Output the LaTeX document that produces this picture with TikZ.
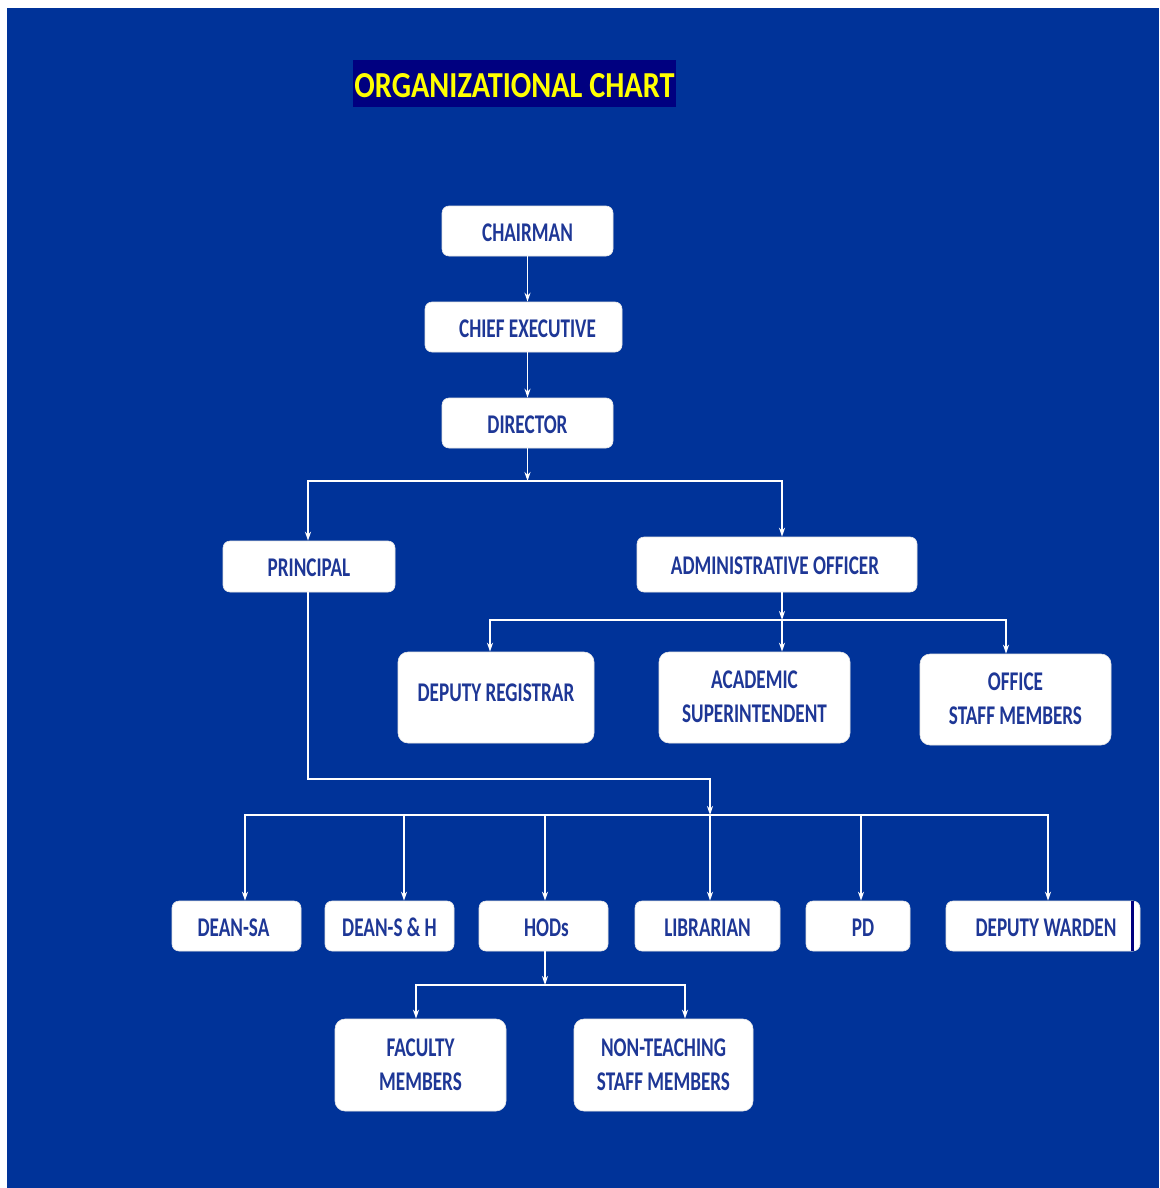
\documentclass[tikz,border=0pt]{standalone}
\usepackage{fontspec}
\setmainfont{Carlito}
\usepackage{graphicx}
\usetikzlibrary{arrows.meta}
\definecolor{bgblue}{RGB}{0,51,153}
\definecolor{navy}{RGB}{0,0,128}
\definecolor{txtblue}{RGB}{30,55,150}
\definecolor{ttl}{RGB}{255,255,0}
\newcommand{\lbl}[2][-3.5pt]{\raisebox{#1}[\height][\depth]{\scalebox{0.71}[1]{\fontsize{27}{34}\selectfont\bfseries\begin{tabular}{@{}c@{}}#2\end{tabular}}}}
\begin{document}
\begin{tikzpicture}[x=1pt,y=-1pt,
  box/.style={draw=white!80!gray, line width=0.6pt, fill=white, rounded corners=7pt, inner sep=0pt, text=txtblue},
  conn/.style={draw=white, line width=1.6pt, line cap=rect},
  arr/.style={draw=white, line width=1.6pt, -{Stealth[length=9pt,width=6pt]}}]
\useasboundingbox (0,0) rectangle (1159,1188);
\fill[white] (0,0) rectangle (1159,1188);
\fill[bgblue] (7,8) rectangle (1159,1188);
% title
\node[fill=navy, minimum width=323pt, minimum height=47pt, inner sep=0pt, text=ttl] (title) at (514.5,83.5)
  {\raisebox{-2pt}[\height][\depth]{\resizebox{320pt}{24pt}{\bfseries ORGANIZATIONAL CHART}}};
% boxes
\node[box, minimum width=171pt, minimum height=50pt] (chair) at (527.5,231) {\lbl{CHAIRMAN}};
\node[box, minimum width=197pt, minimum height=50pt] (chief) at (523.5,327) {\hspace*{8pt}\lbl{CHIEF EXECUTIVE}};
\node[box, minimum width=171pt, minimum height=50pt] (director) at (527.5,423) {\lbl{DIRECTOR}};
\node[box, minimum width=172pt, minimum height=51pt] (principal) at (309,566.5) {\lbl{PRINCIPAL}};
\node[box, minimum width=280pt, minimum height=55pt] (admin) at (777,564.5) {\hspace*{-4pt}\lbl{ADMINISTRATIVE OFFICER}};
\node[box, rounded corners=10pt, minimum width=196pt, minimum height=91pt] (depreg) at (496,697.5) {\lbl[2.5pt]{DEPUTY REGISTRAR}};
\node[box, rounded corners=10pt, minimum width=191pt, minimum height=91pt] (acad) at (754.5,697.5) {\lbl[-1.5pt]{ACADEMIC\\SUPERINTENDENT}};
\node[box, rounded corners=10pt, minimum width=191pt, minimum height=91pt] (office) at (1015.5,699.5) {\lbl[-1.5pt]{OFFICE\\STAFF MEMBERS}};
\node[box, minimum width=129pt, minimum height=50pt] (deansa) at (236.5,926) {\hspace*{-6pt}\lbl{DEAN-SA}};
\node[box, minimum width=129pt, minimum height=50pt] (deansh) at (389.5,926) {\lbl{DEAN-S \& H}};
\node[box, minimum width=129pt, minimum height=50pt] (hods) at (543.5,926) {\hspace*{6pt}\lbl{HODs}};
\node[box, minimum width=145pt, minimum height=50pt] (libr) at (707.5,926) {\lbl{LIBRARIAN}};
\node[box, minimum width=104pt, minimum height=50pt] (pd) at (858,926) {\hspace*{10pt}\lbl{PD}};
\node[box, minimum width=194pt, minimum height=50pt] (warden) at (1043,926) {\hspace*{6pt}\lbl{DEPUTY WARDEN}};
\fill[navy] (1130.5,901) rectangle (1133.5,951);
\node[box, rounded corners=10pt, minimum width=171pt, minimum height=92pt] (faculty) at (420.5,1065) {\lbl[-1.5pt]{FACULTY\\MEMBERS}};
\node[box, rounded corners=10pt, minimum width=179pt, minimum height=92pt] (nonteach) at (663.5,1065) {\lbl[-1.5pt]{NON-TEACHING\\STAFF MEMBERS}};
% coordinates
\coordinate (b0) at (527.5,300);
\coordinate (b1) at (527.5,481);
\coordinate (b1l) at (308,481);
\coordinate (b1r) at (782,481);
\coordinate (b2) at (782,620);
\coordinate (b2l) at (490,620);
\coordinate (b2r) at (1006,620);
\coordinate (c1) at (710,779);
\coordinate (b3) at (710,815);
\coordinate (b3l) at (245,815);
\coordinate (b3r) at (1048,815);
\coordinate (x2) at (404,815);
\coordinate (x3) at (545,815);
\coordinate (x5) at (861,815);
\coordinate (b4) at (545,985);
\coordinate (b4l) at (416,985);
\coordinate (b4r) at (685,985);
% connectors
\draw[arr] (chair.south) -- (b0 |- chief.north);
\draw[arr] (b0 |- chief.south) -- (director.north);
\draw[arr] (director.south) -- (b1);
\draw[conn] (b1l) -- (b1r);
\draw[arr] (b1l) -- (b1l |- principal.north);
\draw[arr] (b1r) -- (b1r |- admin.north);
\draw[arr] (b2 |- admin.south) -- (b2);
\draw[conn] (b2l) -- (b2r);
\draw[arr] (b2l) -- (b2l |- depreg.north);
\draw[arr] (b2) -- (b2 |- acad.north);
\draw[arr] (b2r) -- (b2r |- office.north);
\draw[conn] (b1l |- principal.south) -- (b1l |- c1) -- (c1);
\draw[arr] (c1) -- (b3);
\draw[conn] (b3l) -- (b3r);
\draw[arr] (b3) -- (b3 |- libr.north);
\draw[arr] (b3l) -- (b3l |- deansa.north);
\draw[arr] (x2) -- (x2 |- deansh.north);
\draw[arr] (x3) -- (x3 |- hods.north);
\draw[arr] (x5) -- (x5 |- pd.north);
\draw[arr] (b3r) -- (b3r |- warden.north);
\draw[arr] (b4 |- hods.south) -- (b4);
\draw[conn] (b4l) -- (b4r);
\draw[arr] (b4l) -- (b4l |- faculty.north);
\draw[arr] (b4r) -- (b4r |- nonteach.north);
\end{tikzpicture}
\end{document}
